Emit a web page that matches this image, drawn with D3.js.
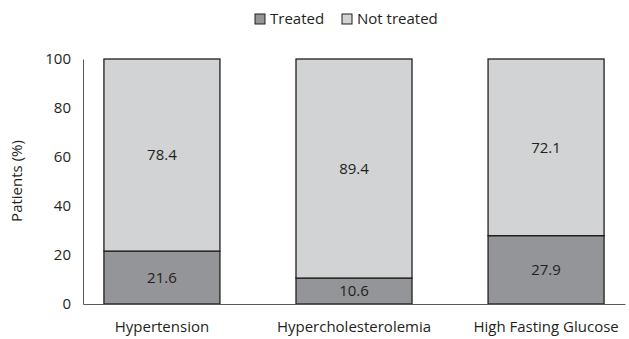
<!DOCTYPE html>
<html>
<head>
<meta charset="utf-8">
<script src="https://cdn.jsdelivr.net/npm/d3@7"></script>
<style>
  body{margin:0;background:#fff;}
  text{font-family:"Open Sans",sans-serif;fill:#231f20;}
</style>
</head>
<body>
<svg id="chart" width="629" height="339"></svg>
<script>
//chart data
var categories=['Hypertension','Hypercholesterolemia','High Fasting Glucose'];
var treated=[21.6,10.6,27.9];
var notTreated=[78.4,89.4,72.1];
var seriesNames=['Treated','Not treated'];
var yTicks=[0,20,40,60,80,100];

var colors=['#939598','#d1d3d4'];
var fs='15px';
var svg=d3.select('#chart');

var x=d3.scaleBand()
  .domain(categories)
  .range([83,625])
  .paddingInner(0.396)
  .paddingOuter(0.109);
var y=d3.scaleLinear()
  .domain([0,100])
  .range([304,59]);

//stack the two series
var rows=categories.map((c,i)=>({cat:c,Treated:treated[i],'Not treated':notTreated[i]}));
var stack=d3.stack().keys(seriesNames)(rows);

var groups=svg.selectAll('g.series')
  .data(stack)
  .enter().append('g')
  .attr('class','series')
  .attr('fill',(d,i)=>colors[i]);

groups.selectAll('rect')
  .data(d=>d)
  .enter().append('rect')
  .attr('x',d=>x(d.data.cat))
  .attr('width',x.bandwidth())
  .attr('y',d=>y(d[1]))
  .attr('height',d=>y(d[0])-y(d[1]))
  .attr('stroke','#231f20')
  .attr('stroke-width',1.3);

groups.selectAll('text')
  .data(d=>d)
  .enter().append('text')
  .attr('x',d=>x(d.data.cat)+x.bandwidth()/2)
  .attr('y',d=>y((d[0]+d[1])/2))
  .attr('dy','0.35em')
  .attr('text-anchor','middle')
  .style('font-size',fs)
  .text(d=>d3.format('.1f')(d[1]-d[0]));

//axes
var yAxis=svg.append('g')
  .attr('transform','translate(83,0)')
  .call(d3.axisLeft(y).tickValues(yTicks).tickSize(0).tickPadding(12));
yAxis.select('.domain').attr('stroke','#58595b');
yAxis.selectAll('text').style('font-size',fs).attr('fill','#231f20');

var xAxis=svg.append('g')
  .attr('transform','translate(0,304)')
  .call(d3.axisBottom(x).tickSize(0).tickPadding(17));
xAxis.select('.domain').attr('stroke','#58595b');
xAxis.selectAll('text').style('font-size',fs).attr('fill','#231f20');

svg.append('text')
  .attr('transform','translate(22,181) rotate(-90)')
  .attr('text-anchor','middle')
  .style('font-size',fs)
  .text('Patients (%)');

//legend
var legendX=[255,342];
var legend=svg.selectAll('g.legend')
  .data(seriesNames)
  .enter().append('g')
  .attr('class','legend')
  .attr('transform',(d,i)=>'translate('+legendX[i]+',14)');
legend.append('rect')
  .attr('width',10).attr('height',10)
  .attr('fill',(d,i)=>colors[i])
  .attr('stroke','#231f20')
  .attr('stroke-width',1);
legend.append('text')
  .attr('x',15).attr('y',5)
  .attr('dy','0.35em')
  .style('font-size',fs)
  .text(d=>d);
</script>
</body>
</html>
